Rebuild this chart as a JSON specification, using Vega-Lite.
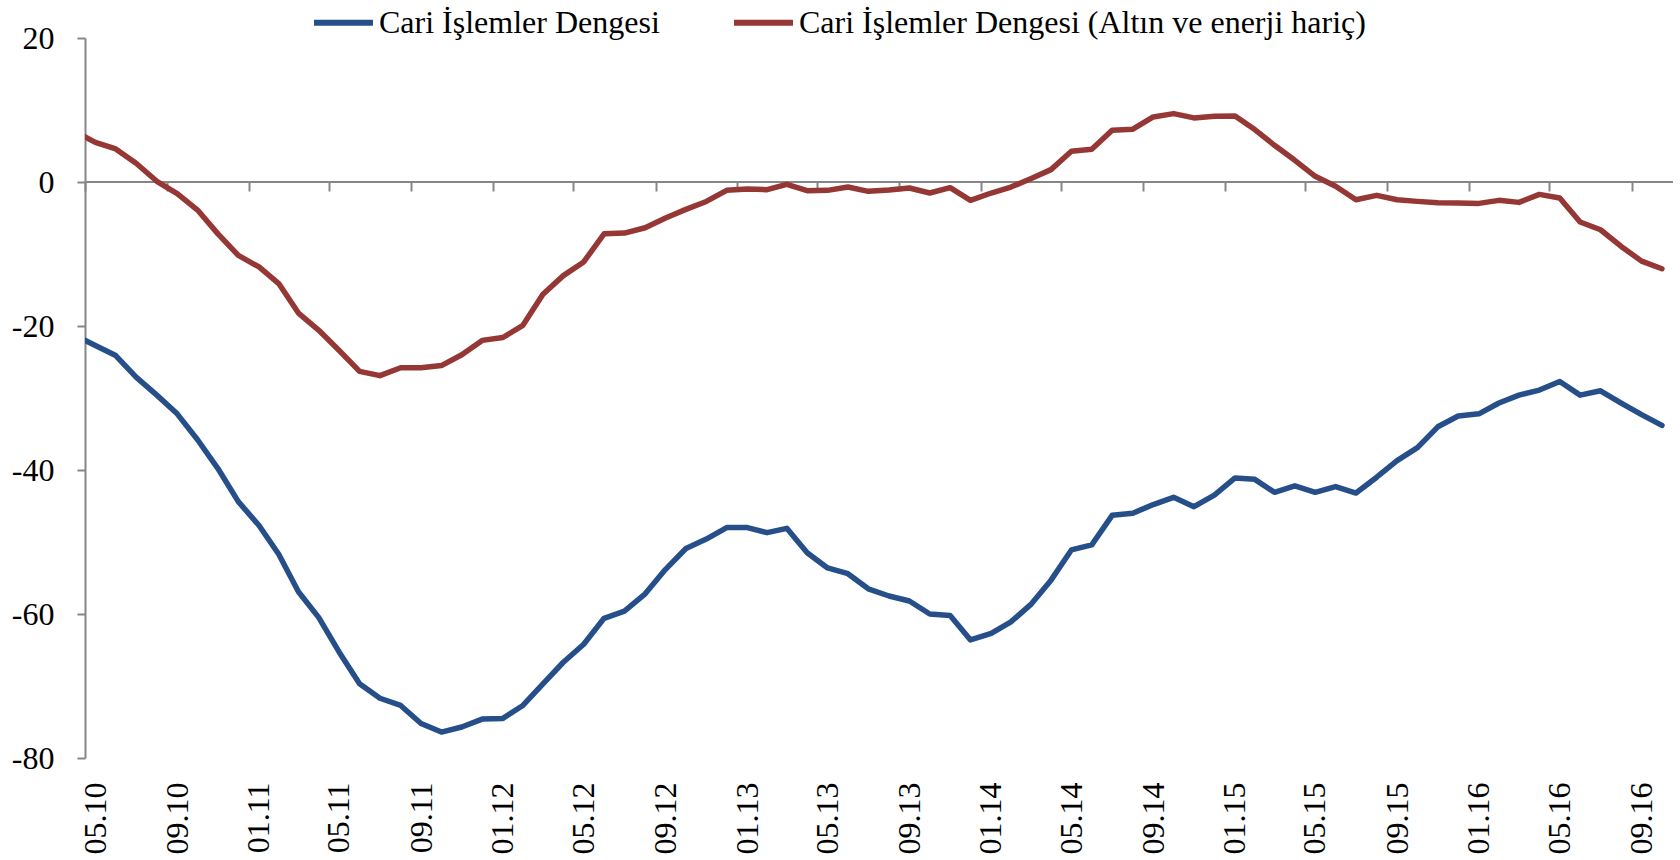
{
  "$schema": "https://vega.github.io/schema/vega-lite/v6.json",
  "width": 1587.3,
  "height": 720,
  "autosize": {"type": "none"},
  "padding": {"left": 85, "top": 38, "right": 7.7, "bottom": 102},
  "background": "white",
  "config": {
    "view": {"stroke": null},
    "font": "Liberation Serif",
    "axis": {"labelFont": "Liberation Serif", "labelFontSize": 32, "labelColor": "#000000", "domainColor": "#868686", "tickColor": "#868686", "domainWidth": 2, "tickWidth": 2, "grid": false}
  },
  "data": {"values": [
    {"m": "2010-04", "Cari İşlemler Dengesi": -21.3, "Cari İşlemler Dengesi (Altın ve enerji hariç)": 7.0},
    {"m": "2010-05", "Cari İşlemler Dengesi": -22.7, "Cari İşlemler Dengesi (Altın ve enerji hariç)": 5.5},
    {"m": "2010-06", "Cari İşlemler Dengesi": -24.1, "Cari İşlemler Dengesi (Altın ve enerji hariç)": 4.6},
    {"m": "2010-07", "Cari İşlemler Dengesi": -27.1, "Cari İşlemler Dengesi (Altın ve enerji hariç)": 2.6},
    {"m": "2010-08", "Cari İşlemler Dengesi": -29.6, "Cari İşlemler Dengesi (Altın ve enerji hariç)": 0.1},
    {"m": "2010-09", "Cari İşlemler Dengesi": -32.2, "Cari İşlemler Dengesi (Altın ve enerji hariç)": -1.6},
    {"m": "2010-10", "Cari İşlemler Dengesi": -35.8, "Cari İşlemler Dengesi (Altın ve enerji hariç)": -3.9},
    {"m": "2010-11", "Cari İşlemler Dengesi": -39.8, "Cari İşlemler Dengesi (Altın ve enerji hariç)": -7.2},
    {"m": "2010-12", "Cari İşlemler Dengesi": -44.4, "Cari İşlemler Dengesi (Altın ve enerji hariç)": -10.2},
    {"m": "2011-01", "Cari İşlemler Dengesi": -47.7, "Cari İşlemler Dengesi (Altın ve enerji hariç)": -11.8},
    {"m": "2011-02", "Cari İşlemler Dengesi": -51.7, "Cari İşlemler Dengesi (Altın ve enerji hariç)": -14.1},
    {"m": "2011-03", "Cari İşlemler Dengesi": -56.9, "Cari İşlemler Dengesi (Altın ve enerji hariç)": -18.2},
    {"m": "2011-04", "Cari İşlemler Dengesi": -60.5, "Cari İşlemler Dengesi (Altın ve enerji hariç)": -20.6},
    {"m": "2011-05", "Cari İşlemler Dengesi": -65.3, "Cari İşlemler Dengesi (Altın ve enerji hariç)": -23.4},
    {"m": "2011-06", "Cari İşlemler Dengesi": -69.7, "Cari İşlemler Dengesi (Altın ve enerji hariç)": -26.3},
    {"m": "2011-07", "Cari İşlemler Dengesi": -71.7, "Cari İşlemler Dengesi (Altın ve enerji hariç)": -26.9},
    {"m": "2011-08", "Cari İşlemler Dengesi": -72.7, "Cari İşlemler Dengesi (Altın ve enerji hariç)": -25.8},
    {"m": "2011-09", "Cari İşlemler Dengesi": -75.2, "Cari İşlemler Dengesi (Altın ve enerji hariç)": -25.8},
    {"m": "2011-10", "Cari İşlemler Dengesi": -76.4, "Cari İşlemler Dengesi (Altın ve enerji hariç)": -25.5},
    {"m": "2011-11", "Cari İşlemler Dengesi": -75.7, "Cari İşlemler Dengesi (Altın ve enerji hariç)": -24.0},
    {"m": "2011-12", "Cari İşlemler Dengesi": -74.6, "Cari İşlemler Dengesi (Altın ve enerji hariç)": -22.0},
    {"m": "2012-01", "Cari İşlemler Dengesi": -74.5, "Cari İşlemler Dengesi (Altın ve enerji hariç)": -21.6},
    {"m": "2012-02", "Cari İşlemler Dengesi": -72.7, "Cari İşlemler Dengesi (Altın ve enerji hariç)": -19.9},
    {"m": "2012-03", "Cari İşlemler Dengesi": -69.7, "Cari İşlemler Dengesi (Altın ve enerji hariç)": -15.6},
    {"m": "2012-04", "Cari İşlemler Dengesi": -66.7, "Cari İşlemler Dengesi (Altın ve enerji hariç)": -13.0},
    {"m": "2012-05", "Cari İşlemler Dengesi": -64.2, "Cari İşlemler Dengesi (Altın ve enerji hariç)": -11.1},
    {"m": "2012-06", "Cari İşlemler Dengesi": -60.6, "Cari İşlemler Dengesi (Altın ve enerji hariç)": -7.2},
    {"m": "2012-07", "Cari İşlemler Dengesi": -59.6, "Cari İşlemler Dengesi (Altın ve enerji hariç)": -7.1},
    {"m": "2012-08", "Cari İşlemler Dengesi": -57.2, "Cari İşlemler Dengesi (Altın ve enerji hariç)": -6.35},
    {"m": "2012-09", "Cari İşlemler Dengesi": -53.8, "Cari İşlemler Dengesi (Altın ve enerji hariç)": -5.0},
    {"m": "2012-10", "Cari İşlemler Dengesi": -50.9, "Cari İşlemler Dengesi (Altın ve enerji hariç)": -3.8},
    {"m": "2012-11", "Cari İşlemler Dengesi": -49.6, "Cari İşlemler Dengesi (Altın ve enerji hariç)": -2.7},
    {"m": "2012-12", "Cari İşlemler Dengesi": -48.0, "Cari İşlemler Dengesi (Altın ve enerji hariç)": -1.16},
    {"m": "2013-01", "Cari İşlemler Dengesi": -48.0, "Cari İşlemler Dengesi (Altın ve enerji hariç)": -0.97},
    {"m": "2013-02", "Cari İşlemler Dengesi": -48.7, "Cari İşlemler Dengesi (Altın ve enerji hariç)": -1.07},
    {"m": "2013-03", "Cari İşlemler Dengesi": -48.1, "Cari İşlemler Dengesi (Altın ve enerji hariç)": -0.32},
    {"m": "2013-04", "Cari İşlemler Dengesi": -51.5, "Cari İşlemler Dengesi (Altın ve enerji hariç)": -1.2},
    {"m": "2013-05", "Cari İşlemler Dengesi": -53.6, "Cari İşlemler Dengesi (Altın ve enerji hariç)": -1.16},
    {"m": "2013-06", "Cari İşlemler Dengesi": -54.4, "Cari İşlemler Dengesi (Altın ve enerji hariç)": -0.7},
    {"m": "2013-07", "Cari İşlemler Dengesi": -56.5, "Cari İşlemler Dengesi (Altın ve enerji hariç)": -1.3},
    {"m": "2013-08", "Cari İşlemler Dengesi": -57.5, "Cari İşlemler Dengesi (Altın ve enerji hariç)": -1.11},
    {"m": "2013-09", "Cari İşlemler Dengesi": -58.2, "Cari İşlemler Dengesi (Altın ve enerji hariç)": -0.83},
    {"m": "2013-10", "Cari İşlemler Dengesi": -60.0, "Cari İşlemler Dengesi (Altın ve enerji hariç)": -1.53},
    {"m": "2013-11", "Cari İşlemler Dengesi": -60.2, "Cari İşlemler Dengesi (Altın ve enerji hariç)": -0.79},
    {"m": "2013-12", "Cari İşlemler Dengesi": -63.6, "Cari İşlemler Dengesi (Altın ve enerji hariç)": -2.55},
    {"m": "2014-01", "Cari İşlemler Dengesi": -62.7, "Cari İşlemler Dengesi (Altın ve enerji hariç)": -1.53},
    {"m": "2014-02", "Cari İşlemler Dengesi": -61.1, "Cari İşlemler Dengesi (Altın ve enerji hariç)": -0.7},
    {"m": "2014-03", "Cari İşlemler Dengesi": -58.7, "Cari İşlemler Dengesi (Altın ve enerji hariç)": 0.46},
    {"m": "2014-04", "Cari İşlemler Dengesi": -55.3, "Cari İşlemler Dengesi (Altın ve enerji hariç)": 1.72},
    {"m": "2014-05", "Cari İşlemler Dengesi": -51.1, "Cari İşlemler Dengesi (Altın ve enerji hariç)": 4.27},
    {"m": "2014-06", "Cari İşlemler Dengesi": -50.4, "Cari İşlemler Dengesi (Altın ve enerji hariç)": 4.54},
    {"m": "2014-07", "Cari İşlemler Dengesi": -46.3, "Cari İşlemler Dengesi (Altın ve enerji hariç)": 7.19},
    {"m": "2014-08", "Cari İşlemler Dengesi": -46.0, "Cari İşlemler Dengesi (Altın ve enerji hariç)": 7.33},
    {"m": "2014-09", "Cari İşlemler Dengesi": -44.8, "Cari İşlemler Dengesi (Altın ve enerji hariç)": 9.04},
    {"m": "2014-10", "Cari İşlemler Dengesi": -43.8, "Cari İşlemler Dengesi (Altın ve enerji hariç)": 9.5},
    {"m": "2014-11", "Cari İşlemler Dengesi": -45.1, "Cari İşlemler Dengesi (Altın ve enerji hariç)": 8.9},
    {"m": "2014-12", "Cari İşlemler Dengesi": -43.5, "Cari İşlemler Dengesi (Altın ve enerji hariç)": 9.13},
    {"m": "2015-01", "Cari İşlemler Dengesi": -41.1, "Cari İşlemler Dengesi (Altın ve enerji hariç)": 9.18},
    {"m": "2015-02", "Cari İşlemler Dengesi": -41.3, "Cari İşlemler Dengesi (Altın ve enerji hariç)": 7.28},
    {"m": "2015-03", "Cari İşlemler Dengesi": -43.1, "Cari İşlemler Dengesi (Altın ve enerji hariç)": 5.1},
    {"m": "2015-04", "Cari İşlemler Dengesi": -42.2, "Cari İşlemler Dengesi (Altın ve enerji hariç)": 3.01},
    {"m": "2015-05", "Cari İşlemler Dengesi": -43.1, "Cari İşlemler Dengesi (Altın ve enerji hariç)": 0.79},
    {"m": "2015-06", "Cari İşlemler Dengesi": -42.3, "Cari İşlemler Dengesi (Altın ve enerji hariç)": -0.6},
    {"m": "2015-07", "Cari İşlemler Dengesi": -43.2, "Cari İşlemler Dengesi (Altın ve enerji hariç)": -2.46},
    {"m": "2015-08", "Cari İşlemler Dengesi": -41.0, "Cari İşlemler Dengesi (Altın ve enerji hariç)": -1.85},
    {"m": "2015-09", "Cari İşlemler Dengesi": -38.7, "Cari İşlemler Dengesi (Altın ve enerji hariç)": -2.46},
    {"m": "2015-10", "Cari İşlemler Dengesi": -36.9, "Cari İşlemler Dengesi (Altın ve enerji hariç)": -2.69},
    {"m": "2015-11", "Cari İşlemler Dengesi": -34.0, "Cari İşlemler Dengesi (Altın ve enerji hariç)": -2.87},
    {"m": "2015-12", "Cari İşlemler Dengesi": -32.5, "Cari İşlemler Dengesi (Altın ve enerji hariç)": -2.92},
    {"m": "2016-01", "Cari İşlemler Dengesi": -32.2, "Cari İşlemler Dengesi (Altın ve enerji hariç)": -2.97},
    {"m": "2016-02", "Cari İşlemler Dengesi": -30.7, "Cari İşlemler Dengesi (Altın ve enerji hariç)": -2.55},
    {"m": "2016-03", "Cari İşlemler Dengesi": -29.6, "Cari İşlemler Dengesi (Altın ve enerji hariç)": -2.83},
    {"m": "2016-04", "Cari İşlemler Dengesi": -28.9, "Cari İşlemler Dengesi (Altın ve enerji hariç)": -1.72},
    {"m": "2016-05", "Cari İşlemler Dengesi": -27.7, "Cari İşlemler Dengesi (Altın ve enerji hariç)": -2.23},
    {"m": "2016-06", "Cari İşlemler Dengesi": -29.6, "Cari İşlemler Dengesi (Altın ve enerji hariç)": -5.56},
    {"m": "2016-07", "Cari İşlemler Dengesi": -29.0, "Cari İşlemler Dengesi (Altın ve enerji hariç)": -6.63},
    {"m": "2016-08", "Cari İşlemler Dengesi": -30.7, "Cari İşlemler Dengesi (Altın ve enerji hariç)": -8.95},
    {"m": "2016-09", "Cari İşlemler Dengesi": -32.3, "Cari İşlemler Dengesi (Altın ve enerji hariç)": -10.99},
    {"m": "2016-10", "Cari İşlemler Dengesi": -33.8, "Cari İşlemler Dengesi (Altın ve enerji hariç)": -12.05}
  ]},
  "transform": [
    {"fold": ["Cari İşlemler Dengesi", "Cari İşlemler Dengesi (Altın ve enerji hariç)"], "as": ["s", "v"]}
  ],
  "layer": [
    {
      "mark": {"type": "rule", "color": "#868686", "strokeWidth": 2},
      "encoding": {
        "x": {
          "datum": {"year": 2010, "month": 5, "date": 1, "utc": true},
          "type": "temporal",
          "axis": {
            "orient": "bottom",
            "offset": -576,
            "title": null,
            "labels": false,
            "domain": false,
            "ticks": true,
            "tickSize": 9,
            "values": [
              {"year": 2010, "month": 5, "date": 1, "utc": true},
              {"year": 2010, "month": 9, "date": 1, "utc": true},
              {"year": 2011, "month": 1, "date": 1, "utc": true},
              {"year": 2011, "month": 5, "date": 1, "utc": true},
              {"year": 2011, "month": 9, "date": 1, "utc": true},
              {"year": 2012, "month": 1, "date": 1, "utc": true},
              {"year": 2012, "month": 5, "date": 1, "utc": true},
              {"year": 2012, "month": 9, "date": 1, "utc": true},
              {"year": 2013, "month": 1, "date": 1, "utc": true},
              {"year": 2013, "month": 5, "date": 1, "utc": true},
              {"year": 2013, "month": 9, "date": 1, "utc": true},
              {"year": 2014, "month": 1, "date": 1, "utc": true},
              {"year": 2014, "month": 5, "date": 1, "utc": true},
              {"year": 2014, "month": 9, "date": 1, "utc": true},
              {"year": 2015, "month": 1, "date": 1, "utc": true},
              {"year": 2015, "month": 5, "date": 1, "utc": true},
              {"year": 2015, "month": 9, "date": 1, "utc": true},
              {"year": 2016, "month": 1, "date": 1, "utc": true},
              {"year": 2016, "month": 5, "date": 1, "utc": true},
              {"year": 2016, "month": 9, "date": 1, "utc": true}
            ]
          }
        },
        "x2": {"datum": {"year": 2016, "month": 11, "date": 1, "utc": true}},
        "y": {"datum": 0, "type": "quantitative", "axis": {"title": null, "values": [-80, -60, -40, -20, 0, 20], "tickSize": 8, "labelPadding": 23, "labelExpr": "'' + datum.value"}}
      }
    },
    {
      "mark": {"type": "line", "strokeWidth": 5.5, "clip": true, "strokeJoin": "round", "strokeCap": "round"},
      "encoding": {
        "x": {
          "field": "m",
          "timeUnit": "utcyearmonth",
          "type": "temporal",
          "bandPosition": 0.5,
          "scale": {"type": "utc", "domain": [{"year": 2010, "month": 5, "date": 1, "utc": true}, {"year": 2016, "month": 11, "date": 1, "utc": true}]},
          "axis": {
            "orient": "bottom",
            "title": null,
            "domain": false,
            "ticks": false,
            "tickSize": 0,
            "labelAngle": 270,
            "labelPadding": 24,
            "labelExpr": "utcFormat(datum.value, '%m.%y')",
            "values": [
              {"year": 2010, "month": 5, "date": 16, "utc": true},
              {"year": 2010, "month": 9, "date": 16, "utc": true},
              {"year": 2011, "month": 1, "date": 16, "utc": true},
              {"year": 2011, "month": 5, "date": 16, "utc": true},
              {"year": 2011, "month": 9, "date": 16, "utc": true},
              {"year": 2012, "month": 1, "date": 16, "utc": true},
              {"year": 2012, "month": 5, "date": 16, "utc": true},
              {"year": 2012, "month": 9, "date": 16, "utc": true},
              {"year": 2013, "month": 1, "date": 16, "utc": true},
              {"year": 2013, "month": 5, "date": 16, "utc": true},
              {"year": 2013, "month": 9, "date": 16, "utc": true},
              {"year": 2014, "month": 1, "date": 16, "utc": true},
              {"year": 2014, "month": 5, "date": 16, "utc": true},
              {"year": 2014, "month": 9, "date": 16, "utc": true},
              {"year": 2015, "month": 1, "date": 16, "utc": true},
              {"year": 2015, "month": 5, "date": 16, "utc": true},
              {"year": 2015, "month": 9, "date": 16, "utc": true},
              {"year": 2016, "month": 1, "date": 16, "utc": true},
              {"year": 2016, "month": 5, "date": 16, "utc": true},
              {"year": 2016, "month": 9, "date": 16, "utc": true}
            ]
          }
        },
        "y": {
          "field": "v",
          "type": "quantitative",
          "scale": {"domain": [-80, 20], "nice": false, "zero": false},
          "axis": {"title": null, "values": [-80, -60, -40, -20, 0, 20], "tickSize": 8, "labelPadding": 23, "labelExpr": "'' + datum.value"}
        },
        "color": {
          "field": "s",
          "type": "nominal",
          "scale": {"domain": ["Cari İşlemler Dengesi", "Cari İşlemler Dengesi (Altın ve enerji hariç)"], "range": ["#264F8A", "#953735"]},
          "legend": {
            "orient": "none",
            "legendX": 226,
            "legendY": -48,
            "direction": "horizontal",
            "title": null,
            "symbolType": "stroke",
            "symbolSize": 3481,
            "symbolStrokeWidth": 6,
            "labelFont": "Liberation Serif",
            "labelFontSize": 32,
            "labelColor": "#000000",
            "labelLimit": 2000,
            "labelOffset": 3,
            "columnPadding": 62
          }
        }
      }
    }
  ],
  "resolve": {"axis": {"x": "independent"}}
}
